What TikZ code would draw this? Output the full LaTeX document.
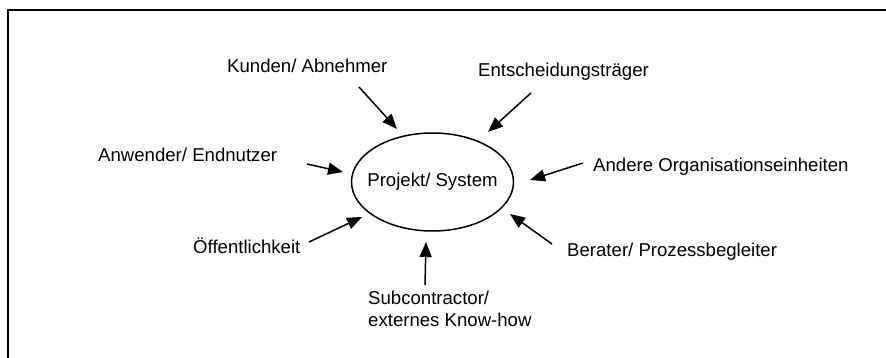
\documentclass[tikz,border=0pt]{standalone}
\usepackage{fontspec}
\setmainfont{Liberation Sans}
\usepackage{tikz}
\usetikzlibrary{shapes.geometric,arrows.meta}

\tikzset{
  lbl/.style={inner sep=0pt, anchor=base west, font=\fontsize{18.6}{22}\selectfont},
  pfeil/.style={line width=1.5pt, -{Triangle[length=15pt,width=12pt]}},
}

\begin{document}
\begin{tikzpicture}[x=1pt,y=-1pt]
\useasboundingbox (0,0) rectangle (886,358);
\clip (0,0) rectangle (886,358);
\draw[line width=1.3pt] (8,380) -- (8,10) -- (900,10);

\node[draw, ellipse, line width=1.5pt, minimum width=162pt, minimum height=98pt, inner sep=0pt,
  font=\fontsize{18.6}{22}\selectfont] (sys) at (432.5,182) {\makebox[0pt]{Projekt/ System}};

\node[lbl] (kunden) at (227,73) {Kunden/ Abnehmer};
\node[lbl] (entsch) at (478,77) {Entscheidungsträger};
\node[lbl] (anwender) at (98,162) {Anwender/ Endnutzer};
\node[lbl] (oeff) at (193,253) {Öffentlichkeit};
\node[lbl] (andere) at (593,172) {Andere Organisationseinheiten};
\node[lbl] (berater) at (567,256) {Berater/ Prozessbegleiter};
\node[lbl, align=left, anchor=north west] (sub) at (368,291) {Subcontractor/\\externes Know-how};

\coordinate (kunden-a) at (359,87);
\coordinate (kunden-b) at (397,129);
\coordinate (entsch-a) at (531,93);
\coordinate (entsch-b) at (488,132);
\coordinate (anwender-a) at (307,164);
\coordinate (anwender-b) at (343,172);
\coordinate (oeff-a) at (309,242);
\coordinate (oeff-b) at (362,217);
\coordinate (andere-a) at (583,163);
\coordinate (andere-b) at (530,180);
\coordinate (berater-a) at (552,244);
\coordinate (berater-b) at (510,214);
\coordinate (sub-a) at (425,285);
\coordinate (sub-b) at (426,242);

\draw[pfeil] (kunden-a) -- (kunden-b);
\draw[pfeil] (entsch-a) -- (entsch-b);
\draw[pfeil] (anwender-a) -- (anwender-b);
\draw[pfeil] (oeff-a) -- (oeff-b);
\draw[pfeil] (andere-a) -- (andere-b);
\draw[pfeil] (berater-a) -- (berater-b);
\draw[pfeil] (sub-a) -- (sub-b);
\end{tikzpicture}
\end{document}
